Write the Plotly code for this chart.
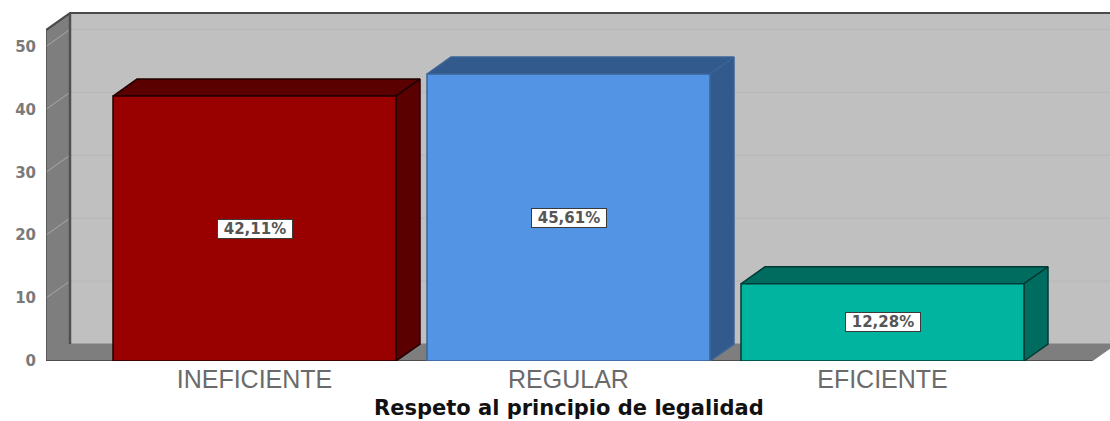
import plotly.graph_objects as go

categories = ["INEFICIENTE", "REGULAR", "EFICIENTE"]
values = [42.11, 45.61, 12.28]
value_labels = ["42,11%", "45,61%", "12,28%"]
y_ticks = [0, 10, 20, 30, 40, 50]
x_title = "Respeto al principio de legalidad"

front_colors = ["#990000", "#5394E4", "#00B4A0"]
dark_colors = ["#5A0000", "#335A8C", "#006C60"]
edge_colors = ["#200000", "#3A6496", "#003A34"]

# 3D look, in axis units
DX, DY = 24 / 314, 17 / 6.3
BAR_W = 283 / 314
XR = [(46 - 254.5) / 314, (1110 - 254.5) / 314]
YR = [0, 361.5 / 6.3]
WALL_TOP = 52.6
FLOOR_R = (1092 - 254.5) / 314

fig = go.Figure()


def poly(xs, ys, fill, line=None, lw=1):
    fig.add_trace(go.Scatter(
        x=xs + xs[:1], y=ys + ys[:1], mode="lines", fill="toself", fillcolor=fill,
        line=dict(color=line or fill, width=lw), hoverinfo="skip", showlegend=False))


L = XR[0]
# back wall
poly([L + DX, XR[1] + 1, XR[1] + 1, L + DX], [DY, DY, WALL_TOP + DY, WALL_TOP + DY], "#C0C0C0")
# left wall
poly([L, L + DX, L + DX, L], [0, DY, WALL_TOP + DY, WALL_TOP], "#7E7E7E")
# floor
poly([L, FLOOR_R, FLOOR_R + DX, L + DX], [0, 0, DY, DY], "#7E7E7E")
# grid
for t in y_ticks[1:]:
    fig.add_trace(go.Scatter(x=[L, L + DX], y=[t, t + DY], mode="lines",
                             line=dict(color="#A8A8A8", width=1), hoverinfo="skip", showlegend=False))
    fig.add_trace(go.Scatter(x=[L + DX, XR[1] + 1], y=[t + DY, t + DY], mode="lines",
                             line=dict(color="#B6B6B6", width=1), hoverinfo="skip", showlegend=False))
# wall edges
fig.add_trace(go.Scatter(x=[L, L + DX, XR[1] + 1], y=[WALL_TOP, WALL_TOP + DY, WALL_TOP + DY], mode="lines",
                         line=dict(color="#4A4A4A", width=2), hoverinfo="skip", showlegend=False))
fig.add_trace(go.Scatter(x=[L + DX, L + DX], y=[DY, WALL_TOP + DY], mode="lines",
                         line=dict(color="#505050", width=2.5), hoverinfo="skip", showlegend=False))
fig.add_trace(go.Scatter(x=[L, L], y=[0, WALL_TOP], mode="lines",
                         line=dict(color="#505050", width=1.5), hoverinfo="skip", showlegend=False))
fig.add_trace(go.Scatter(x=[L, FLOOR_R], y=[0, 0], mode="lines",
                         line=dict(color="#404040", width=1.5), hoverinfo="skip", showlegend=False))

# bars
for i, v in enumerate(values):
    x0, x1 = i - BAR_W / 2, i + BAR_W / 2
    poly([x0, x1, x1 + DX, x0 + DX], [v, v, v + DY, v + DY], dark_colors[i], edge_colors[i], 1.5)
    poly([x1, x1 + DX, x1 + DX, x1], [0, DY, v + DY, v], dark_colors[i], edge_colors[i], 1.5)
    poly([x0, x1, x1, x0], [0, 0, v, v], front_colors[i], edge_colors[i], 1.5)
    fig.add_annotation(x=i, y=v / 2, text=value_labels[i], showarrow=False,
                       font=dict(family="DejaVu Sans", size=15, color="#555555", weight="bold"),
                       bgcolor="white", bordercolor="#3A3A3A", borderwidth=1,
                       width=72, height=16, borderpad=1)

# axis title, centred under the middle category
fig.add_annotation(x=1, xref="x", y=-0.1314, yref="paper", text="<b>" + x_title + "</b>", showarrow=False,
                   yanchor="middle", font=dict(family="DejaVu Sans", size=21, color="#111111"))

fig.update_layout(
    width=1110, height=421, margin=dict(l=46, r=0, t=0, b=59.5),
    paper_bgcolor="white", plot_bgcolor="white", showlegend=False,
    xaxis=dict(range=XR, tickvals=[0, 1, 2], ticktext=categories, showgrid=False, zeroline=False,
               showline=False, ticks="", ticklabelstandoff=1,
               tickfont=dict(family="Liberation Sans", size=25, color="#6A6A6A")),
    yaxis=dict(range=YR, tickvals=y_ticks, showgrid=False, zeroline=False, showline=False,
               ticks="", ticklabelstandoff=9,
               tickfont=dict(family="DejaVu Sans", size=15, color="#7A7A7A", weight="bold")),
)

fig.write_html("out.html", config={"displayModeBar": False},
               post_script="document.body.style.margin='0';document.body.style.overflow='hidden';")
